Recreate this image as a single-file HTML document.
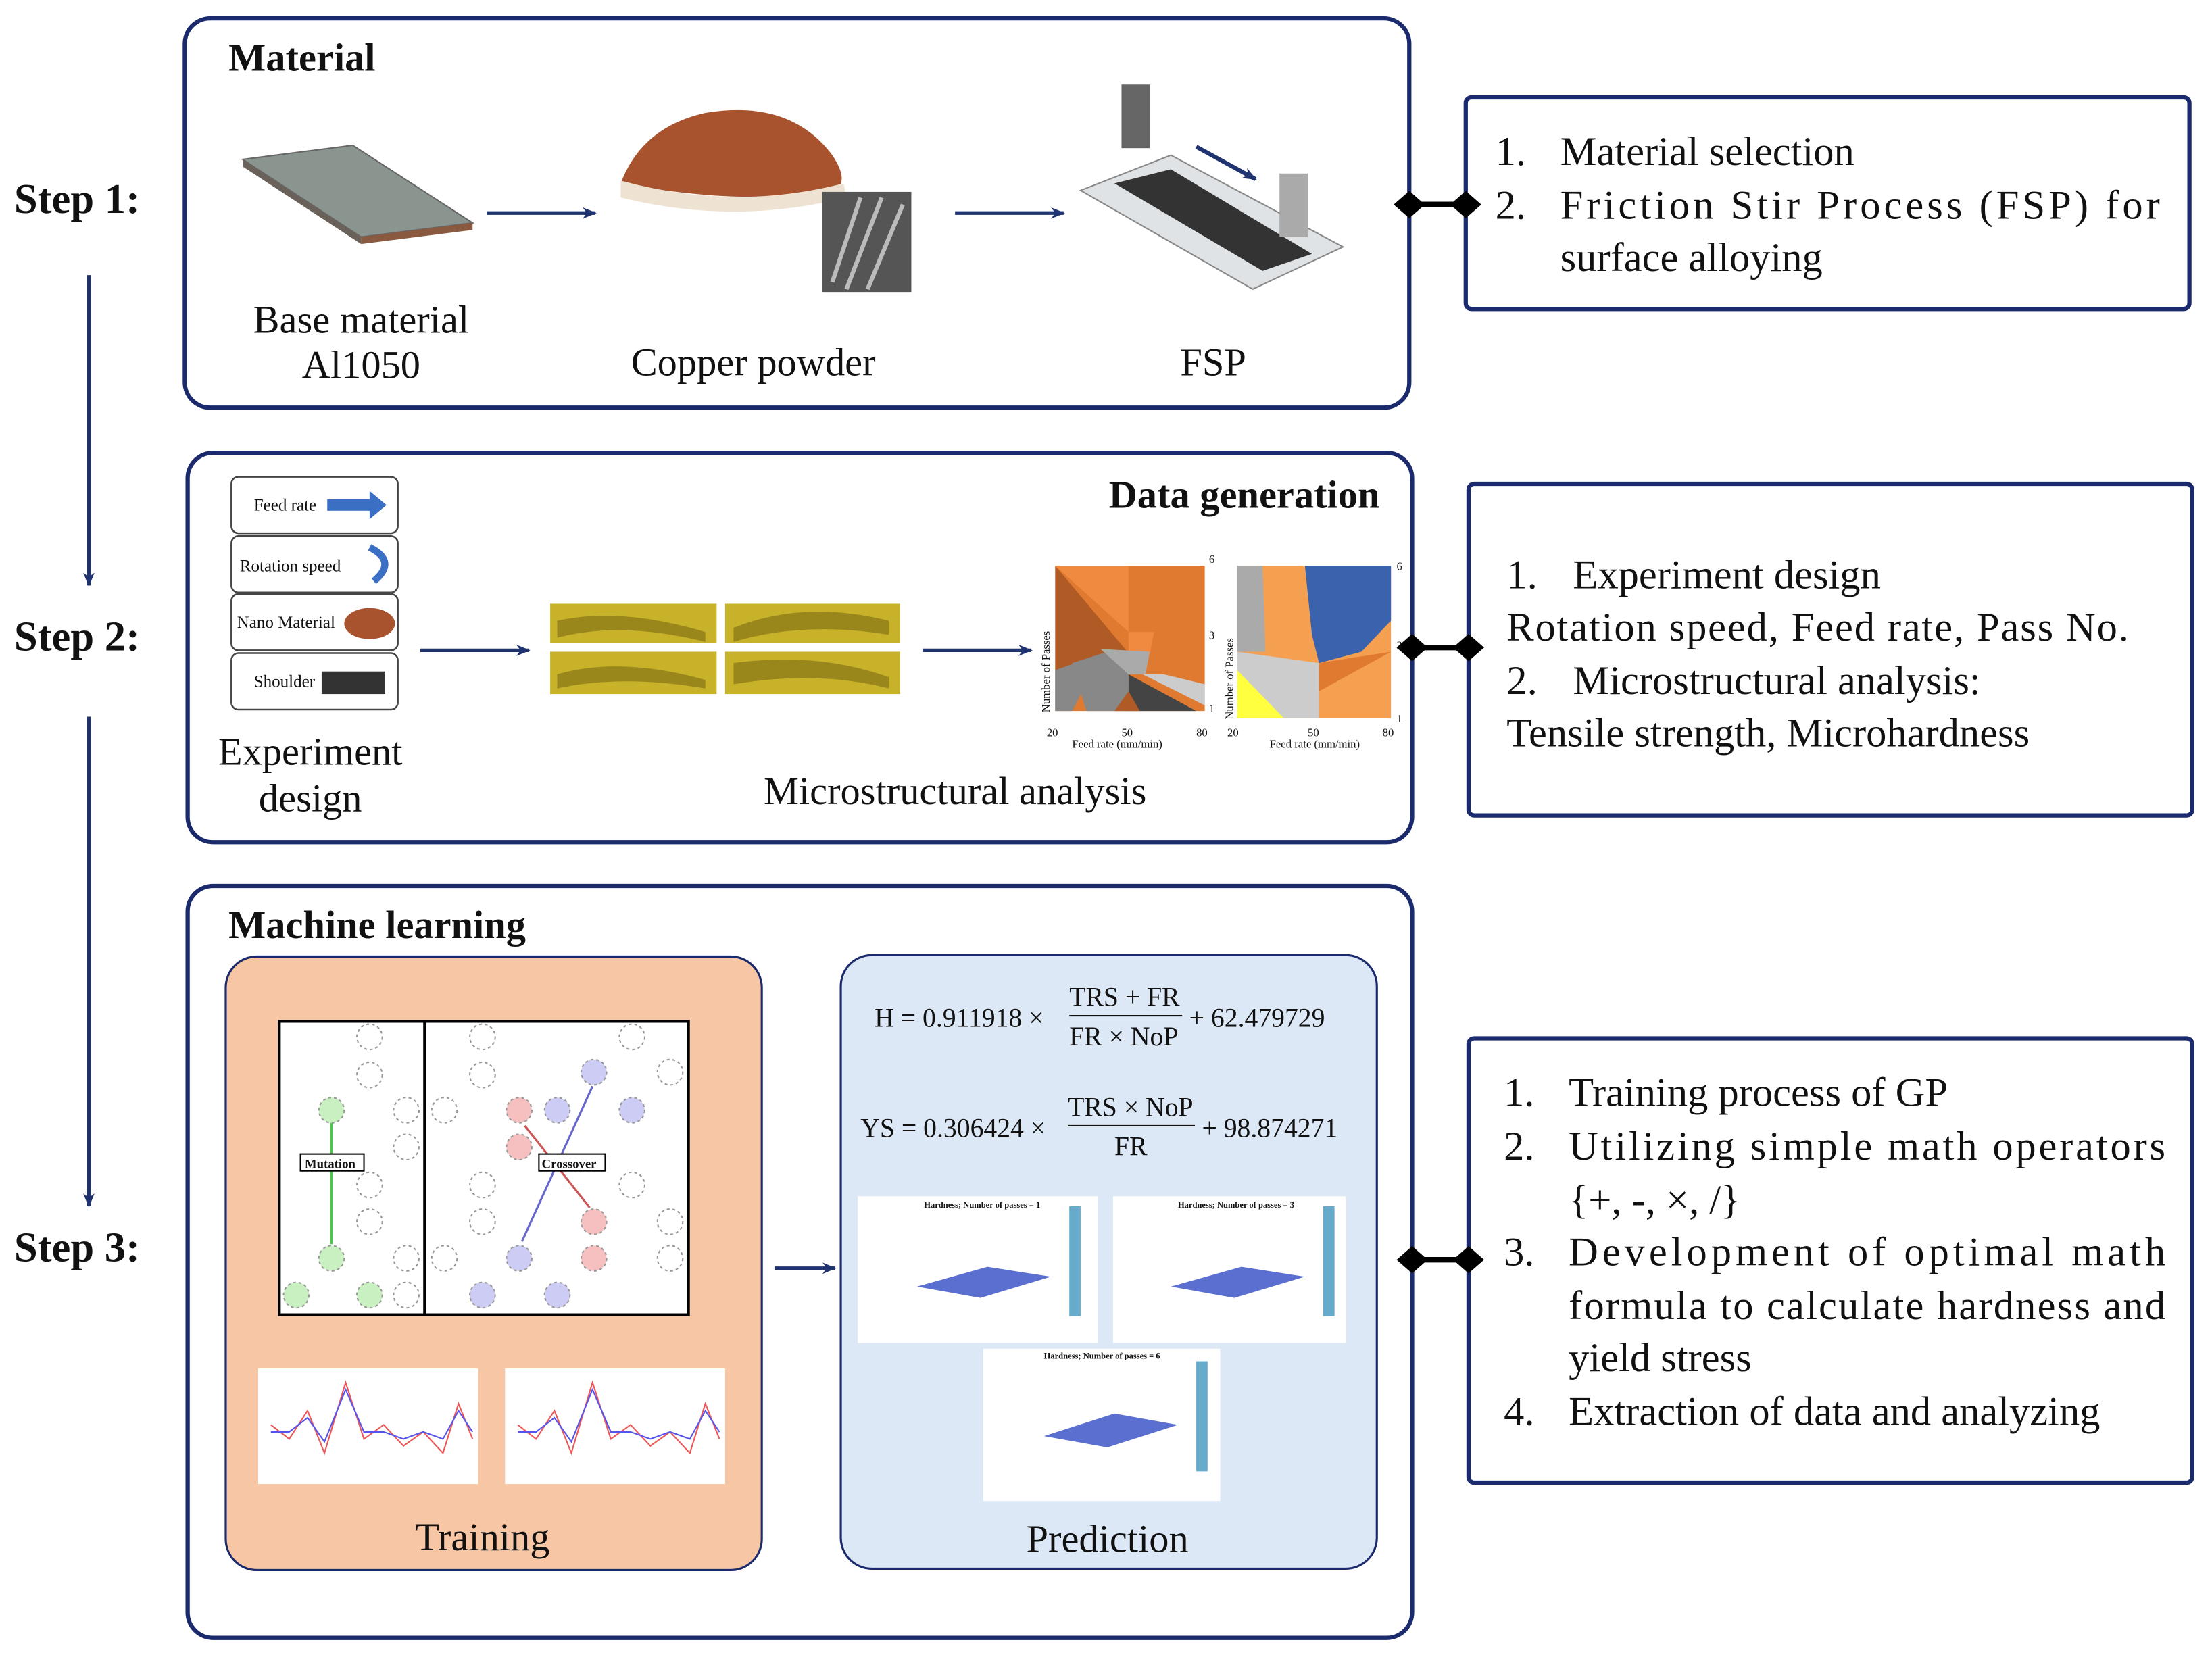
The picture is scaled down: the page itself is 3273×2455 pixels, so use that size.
<!DOCTYPE html>
<html><head><meta charset="utf-8"><style>
html,body{margin:0;padding:0;background:#fff}
svg{display:block}
text{font-family:"Liberation Serif",serif;fill:#111}
</style></head><body>
<svg width="3273" height="2455" viewBox="0 0 1568 1176" preserveAspectRatio="none" xmlns="http://www.w3.org/2000/svg">
<defs>
<marker id="ah" markerWidth="10" markerHeight="10" refX="9" refY="5" orient="auto" markerUnits="userSpaceOnUse"><path d="M0,1 L10,5 L0,9 L3,5 z" fill="#1f3370"/></marker>
</defs>
<g fill="none" stroke="#1a2a6c" stroke-width="3">
<rect x="131" y="13" width="868" height="276" rx="18"/>
<rect x="1039" y="69" width="513" height="150" rx="4"/>
<rect x="133" y="321" width="868" height="276" rx="18"/>
<rect x="1041" y="343" width="513" height="235" rx="4"/>
<rect x="133" y="628" width="868" height="533" rx="18"/>
<rect x="1041" y="736" width="513" height="315" rx="4"/>
</g>
<g stroke="#000" stroke-width="4" fill="#000">
<line x1="999" y1="145" x2="1039" y2="145"/><path d="M991,145 L999,138 L1007,145 L999,152z"/><path d="M1031,145 L1039,138 L1047,145 L1039,152z"/>
<line x1="1001" y1="459" x2="1041" y2="459"/><path d="M993,459 L1001,452 L1009,459 L1001,466z"/><path d="M1033,459 L1041,452 L1049,459 L1041,466z"/>
<line x1="1001" y1="893" x2="1041" y2="893"/><path d="M993,893 L1001,886 L1009,893 L1001,900z"/><path d="M1033,893 L1041,886 L1049,893 L1041,900z"/>
</g>
<g font-weight="bold" font-size="30">
<text x="10" y="151">Step 1:</text><text x="10" y="461">Step 2:</text><text x="10" y="894">Step 3:</text>
</g>
<g stroke="#1f3370" stroke-width="2.5" marker-end="url(#ah)">
<line x1="63" y1="195" x2="63" y2="415"/>
<line x1="63" y1="508" x2="63" y2="855"/>
<line x1="345" y1="151" x2="422" y2="151"/>
<line x1="677" y1="151" x2="754" y2="151"/>
<line x1="298" y1="461" x2="375" y2="461"/>
<line x1="654" y1="461" x2="731" y2="461"/>
<line x1="549" y1="899" x2="592" y2="899"/>
</g>
<text x="162" y="50" font-weight="bold" font-size="28">Material</text>
<path d="M172,113 L250,103 L335,158 L256,168z" fill="#8a9590" stroke="#666"/>
<path d="M172,113 L256,168 L256,173 L172,118z" fill="#6a625a"/>
<path d="M256,168 L335,158 L335,163 L256,173z" fill="#8a5a40"/>
<text x="256" y="236" font-size="28" text-anchor="middle">Base material</text>
<text x="256" y="268" font-size="28" text-anchor="middle">Al1050</text>
<path d="M440,130 Q455,90 500,80 Q560,70 590,110 Q600,125 595,132 Q540,148 440,130z" fill="#a8532e"/>
<path d="M440,128 Q520,150 598,130 L600,140 Q520,160 440,140z" fill="#eee3d3"/>
<rect x="583" y="136" width="63" height="71" fill="#555"/>
<path d="M590,200 L610,140 M600,205 L625,140 M615,205 L640,145" stroke="#bbb" stroke-width="3"/>
<text x="534" y="266" font-size="28" text-anchor="middle">Copper powder</text>
<path d="M766,135 L830,110 L952,175 L888,205z" fill="#dfe3e6" stroke="#888"/>
<path d="M790,130 L830,120 L930,180 L895,192z" fill="#333"/>
<rect x="795" y="60" width="20" height="45" fill="#666"/>
<rect x="907" y="123" width="20" height="45" fill="#aaa"/>
<path d="M848,104 L890,127" stroke="#1f3370" stroke-width="3" marker-end="url(#ah)"/>
<text x="860" y="266" font-size="28" text-anchor="middle">FSP</text>
<g font-size="29">
<text x="1060" y="117">1.</text><text x="1106" y="117">Material selection</text>
<text x="1060" y="155">2.</text><text x="1106" y="155" textLength="425" lengthAdjust="spacing">Friction Stir Process (FSP) for</text>
<text x="1106" y="192">surface alloying</text>
</g>
<text x="978" y="360" font-weight="bold" font-size="28" text-anchor="end">Data generation</text>
<g fill="#fff" stroke="#444" stroke-width="1.2">
<rect x="164" y="338" width="118" height="40" rx="5"/><rect x="164" y="380" width="118" height="40" rx="5"/>
<rect x="164" y="421" width="118" height="40" rx="5"/><rect x="164" y="463" width="118" height="40" rx="5"/>
</g>
<g font-size="12"><text x="180" y="362">Feed rate</text><text x="170" y="405">Rotation speed</text><text x="168" y="445">Nano Material</text><text x="180" y="487">Shoulder</text></g>
<path d="M232,354 L262,354 L262,348 L274,358 L262,368 L262,362 L232,362z" fill="#3a6fc4"/>
<path d="M262,388 Q282,398 265,412" stroke="#3a6fc4" stroke-width="5" fill="none"/>
<ellipse cx="262" cy="442" rx="18" ry="11" fill="#a8532e"/>
<rect x="228" y="476" width="45" height="16" fill="#333"/>
<text x="220" y="542" font-size="28" text-anchor="middle">Experiment</text>
<text x="220" y="575" font-size="28" text-anchor="middle">design</text>
<g fill="#c8b22a"><rect x="390" y="428" width="118" height="28"/><rect x="514" y="428" width="124" height="28"/><rect x="390" y="462" width="118" height="30"/><rect x="514" y="462" width="124" height="30"/></g>
<g fill="#6b5d10" opacity="0.5"><path d="M395,440 Q440,430 500,448 L500,455 Q440,440 395,452z"/><path d="M520,445 Q570,425 630,440 L630,450 Q570,440 520,455z"/><path d="M395,478 Q440,465 500,482 L500,488 Q440,478 395,488z"/><path d="M520,470 Q580,462 630,480 L630,488 Q580,475 520,485z"/></g>
<text x="677" y="570" font-size="28" text-anchor="middle">Microstructural analysis</text>
<rect x="748" y="401" width="106" height="103" fill="#e07a30"/>
<path d="M748,401 L800,463 L748,504z" fill="#b05a25"/>
<path d="M748,401 L800,401 L800,464 L815,464 L818,448 L800,448z" fill="#f08a40"/>
<path d="M782,463 L800,464 L800,504 L770,504 L760,470z" fill="#888"/>
<path d="M780,460 L815,462 L812,478 L800,478z" fill="#aaa"/>
<path d="M800,478 L800,504 L848,504z" fill="#444"/>
<path d="M810,478 L854,500 L854,485 L825,478z" fill="#ccc"/>
<path d="M748,475 L782,463 L760,504 L748,504z" fill="#888"/>
<path d="M790,504 L800,490 L808,504z" fill="#b05a25"/>
<rect x="877" y="401" width="109" height="108" fill="#f5a050"/>
<path d="M877,401 L895,401 L897,462 L877,462z" fill="#aaa"/>
<path d="M925,401 L986,401 L986,440 L965,462 L935,470 L930,450z" fill="#3a62ad"/>
<path d="M877,462 L935,470 L935,509 L877,509z" fill="#ccc"/>
<path d="M877,475 L877,509 L910,509z" fill="#ffff40"/>
<path d="M935,470 L986,462 L935,490z" fill="#e07a30"/>
<g font-size="8" fill="#555"><text x="742" y="522">20</text><text x="795" y="522">50</text><text x="848" y="522">80</text><text x="760" y="530">Feed rate (mm/min)</text>
<text x="870" y="522">20</text><text x="927" y="522">50</text><text x="980" y="522">80</text><text x="900" y="530">Feed rate (mm/min)</text>
<text x="857" y="399">6</text><text x="857" y="453">3</text><text x="857" y="505">1</text><text x="990" y="404">6</text><text x="990" y="460">3</text><text x="990" y="512">1</text>
<text transform="translate(744,505) rotate(-90)">Number of Passes</text><text transform="translate(874,510) rotate(-90)">Number of Passes</text></g>
<g font-size="29">
<text x="1068" y="417">1.</text><text x="1115" y="417">Experiment design</text>
<text x="1068" y="454" textLength="441" lengthAdjust="spacing">Rotation speed, Feed rate, Pass No.</text>
<text x="1068" y="492">2.</text><text x="1115" y="492">Microstructural analysis:</text>
<text x="1068" y="529">Tensile strength, Microhardness</text>
</g>
<text x="162" y="665" font-weight="bold" font-size="28">Machine learning</text>
<rect x="160" y="678" width="380" height="435" rx="22" fill="#f7c6a5" stroke="#1a2a6c" stroke-width="1.5"/>
<rect x="596" y="677" width="380" height="435" rx="22" fill="#dce8f5" stroke="#1a2a6c" stroke-width="1.5"/>
<rect x="198" y="724" width="290" height="208" fill="#fff" stroke="#000" stroke-width="2"/>
<line x1="301" y1="724" x2="301" y2="932" stroke="#000" stroke-width="2"/>
<g fill="none" stroke="#999" stroke-dasharray="2,2">
<circle cx="262" cy="735" r="9"/><circle cx="262" cy="762" r="9"/><circle cx="288" cy="787" r="9"/><circle cx="288" cy="813" r="9"/><circle cx="262" cy="840" r="9"/><circle cx="262" cy="866" r="9"/><circle cx="288" cy="892" r="9"/><circle cx="288" cy="918" r="9"/>
<circle cx="342" cy="735" r="9"/><circle cx="342" cy="762" r="9"/><circle cx="315" cy="787" r="9"/><circle cx="342" cy="840" r="9"/><circle cx="342" cy="866" r="9"/><circle cx="315" cy="892" r="9"/>
<circle cx="448" cy="735" r="9"/><circle cx="475" cy="760" r="9"/><circle cx="448" cy="840" r="9"/><circle cx="475" cy="866" r="9"/><circle cx="475" cy="892" r="9"/>
</g>
<g stroke="#999" stroke-dasharray="2,2">
<circle cx="235" cy="787" r="9" fill="#c9f0c0"/><circle cx="235" cy="892" r="9" fill="#c9f0c0"/><circle cx="210" cy="918" r="9" fill="#c9f0c0"/><circle cx="262" cy="918" r="9" fill="#c9f0c0"/>
<circle cx="368" cy="787" r="9" fill="#f6c0c0"/><circle cx="368" cy="813" r="9" fill="#f6c0c0"/><circle cx="421" cy="866" r="9" fill="#f6c0c0"/><circle cx="421" cy="892" r="9" fill="#f6c0c0"/>
<circle cx="421" cy="760" r="9" fill="#ccccf5"/><circle cx="395" cy="787" r="9" fill="#ccccf5"/><circle cx="448" cy="787" r="9" fill="#ccccf5"/><circle cx="368" cy="892" r="9" fill="#ccccf5"/><circle cx="342" cy="918" r="9" fill="#ccccf5"/><circle cx="395" cy="918" r="9" fill="#ccccf5"/>
</g>
<line x1="235" y1="796" x2="235" y2="882" stroke="#4c4" stroke-width="1.5"/>
<line x1="420" y1="770" x2="370" y2="880" stroke="#66c" stroke-width="1.5"/>
<line x1="372" y1="798" x2="418" y2="856" stroke="#c55" stroke-width="1.5"/>
<rect x="213" y="818" width="45" height="12" fill="#fff" stroke="#000"/><text x="216" y="828" font-size="9" font-weight="bold">Mutation</text>
<rect x="382" y="818" width="47" height="12" fill="#fff" stroke="#000"/><text x="384" y="828" font-size="9" font-weight="bold">Crossover</text>
<rect x="183" y="970" width="156" height="82" fill="#fff"/><rect x="358" y="970" width="156" height="82" fill="#fff"/>
<polyline points="192,1010 205,1020 218,1000 230,1030 245,980 258,1020 272,1010 286,1025 300,1015 314,1030 325,995 335,1020" fill="none" stroke="#e55" stroke-width="1"/>
<polyline points="192,1015 205,1015 218,1005 230,1022 245,985 258,1015 272,1015 286,1020 300,1015 314,1020 325,1000 335,1015" fill="none" stroke="#55e" stroke-width="1"/>
<polyline points="367,1010 380,1020 393,1000 405,1030 420,980 433,1020 447,1010 461,1025 475,1015 489,1030 500,995 510,1020" fill="none" stroke="#e55" stroke-width="1"/>
<polyline points="367,1015 380,1015 393,1005 405,1022 420,985 433,1015 447,1015 461,1020 475,1015 489,1020 500,1000 510,1015" fill="none" stroke="#55e" stroke-width="1"/>
<text x="342" y="1099" font-size="28" text-anchor="middle">Training</text>
<g font-size="19">
<text x="620" y="728">H = 0.911918 ×</text>
<text x="758" y="713">TRS + FR</text><line x1="758" y1="720" x2="838" y2="720" stroke="#111"/><text x="758" y="741">FR × NoP</text>
<text x="843" y="728">+ 62.479729</text>
<text x="610" y="806">YS = 0.306424 ×</text>
<text x="757" y="791">TRS × NoP</text><line x1="757" y1="798" x2="847" y2="798" stroke="#111"/><text x="790" y="819">FR</text>
<text x="852" y="806">+ 98.874271</text>
</g>
<g fill="#fff"><rect x="608" y="848" width="170" height="104"/><rect x="789" y="848" width="165" height="104"/><rect x="697" y="956" width="168" height="108"/></g>
<g fill="#5a6fd0"><path d="M650,912 L700,898 L745,905 L695,920z"/><path d="M830,912 L880,898 L925,905 L875,920z"/><path d="M740,1018 L790,1002 L835,1010 L785,1026z"/></g>
<g><rect x="758" y="855" width="8" height="78" fill="#6ac"/><rect x="938" y="855" width="8" height="78" fill="#6ac"/><rect x="848" y="965" width="8" height="78" fill="#6ac"/></g>
<g font-size="6" font-weight="bold"><text x="655" y="856">Hardness; Number of passes = 1</text><text x="835" y="856">Hardness; Number of passes = 3</text><text x="740" y="963">Hardness; Number of passes = 6</text></g>
<text x="785" y="1100" font-size="28" text-anchor="middle">Prediction</text>
<g font-size="29">
<text x="1066" y="784">1.</text><text x="1112" y="784">Training process of GP</text>
<text x="1066" y="822">2.</text><text x="1112" y="822" textLength="423" lengthAdjust="spacing">Utilizing simple math operators</text>
<text x="1112" y="860">{+, -, ×, /}</text>
<text x="1066" y="897">3.</text><text x="1112" y="897" textLength="423" lengthAdjust="spacing">Development of optimal math</text>
<text x="1112" y="935" textLength="423" lengthAdjust="spacing">formula to calculate hardness and</text>
<text x="1112" y="972">yield stress</text>
<text x="1066" y="1010">4.</text><text x="1112" y="1010">Extraction of data and analyzing</text>
</g>
</svg>
</body></html>
